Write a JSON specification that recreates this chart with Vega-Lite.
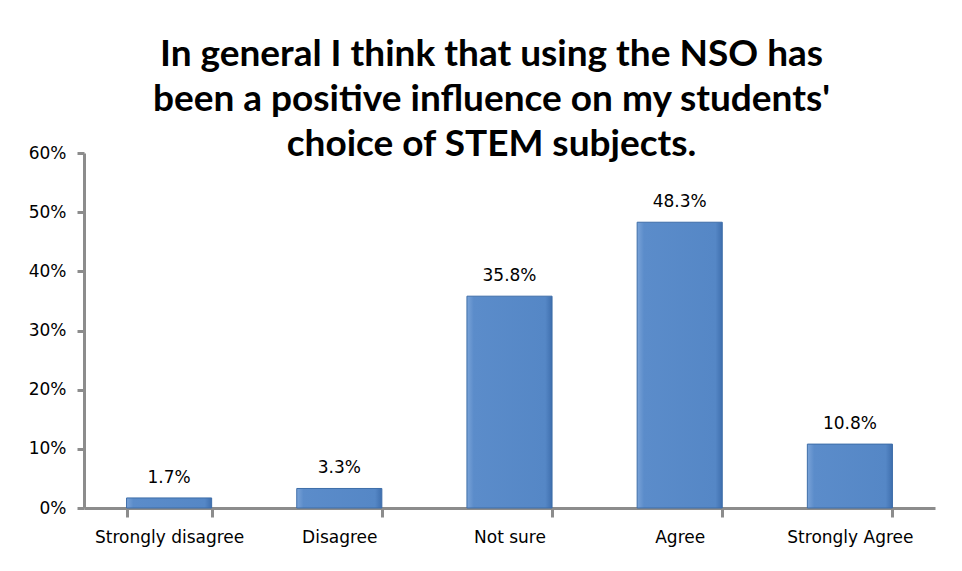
{
  "$schema": "https://vega.github.io/schema/vega-lite/v6.json",
  "width": 851,
  "height": 355,
  "autosize": {"type": "none"},
  "padding": {"left": 84, "top": 153, "right": 27, "bottom": 63},
  "background": "white",
  "title": {
    "text": ["In general I think that using the NSO has", "been a positive influence on my students'", "choice of STEM subjects."],
    "font": "Lato",
    "fontSize": 37,
    "fontWeight": "bold",
    "color": "#000000",
    "lineHeight": 45,
    "anchor": "middle",
    "dx": -18,
    "offset": -20
  },
  "data": {
    "values": [
      {"category": "Strongly disagree", "value": 0.017, "label": "1.7%"},
      {"category": "Disagree", "value": 0.033, "label": "3.3%"},
      {"category": "Not sure", "value": 0.358, "label": "35.8%"},
      {"category": "Agree", "value": 0.483, "label": "48.3%"},
      {"category": "Strongly Agree", "value": 0.108, "label": "10.8%"}
    ]
  },
  "encoding": {
    "x": {
      "field": "category",
      "type": "nominal",
      "sort": null,
      "scale": {"paddingInner": 0.5, "paddingOuter": 0.25},
      "axis": {
        "title": null,
        "labelAngle": 0,
        "labelFont": "DejaVu Sans",
        "labelFontSize": 17,
        "labelColor": "#000000",
        "labelPadding": 12,
        "domainColor": "#8c8c8c",
        "domainWidth": 3,
        "tickColor": "#8c8c8c",
        "tickWidth": 3,
        "tickSize": 9,
        "tickBand": "extent"
      }
    },
    "y": {
      "field": "value",
      "type": "quantitative",
      "scale": {"domain": [0, 0.6], "nice": false},
      "axis": {
        "title": null,
        "format": ".0%",
        "values": [0, 0.1, 0.2, 0.3, 0.4, 0.5, 0.6],
        "labelOverlap": false,
        "grid": false,
        "labelFont": "DejaVu Sans",
        "labelFontSize": 17,
        "labelColor": "#000000",
        "labelPadding": 11,
        "domainColor": "#8c8c8c",
        "domainWidth": 3,
        "tickColor": "#8c8c8c",
        "tickWidth": 3,
        "tickSize": 7
      }
    }
  },
  "layer": [
    {
      "mark": {
        "type": "bar",
        "stroke": "#3d6da8",
        "strokeWidth": 1,
        "color": {
          "gradient": "linear",
          "x1": 0, "y1": 0, "x2": 1, "y2": 0,
          "stops": [
            {"offset": 0, "color": "#7aa3d8"},
            {"offset": 0.08, "color": "#5b8cca"},
            {"offset": 0.92, "color": "#5587c6"},
            {"offset": 1, "color": "#3f6fae"}
          ]
        }
      }
    },
    {
      "mark": {
        "type": "text",
        "baseline": "bottom",
        "dy": -11,
        "font": "DejaVu Sans",
        "fontSize": 17,
        "color": "#000000"
      },
      "encoding": {"text": {"field": "label"}}
    }
  ],
  "config": {"view": {"stroke": null}}
}
